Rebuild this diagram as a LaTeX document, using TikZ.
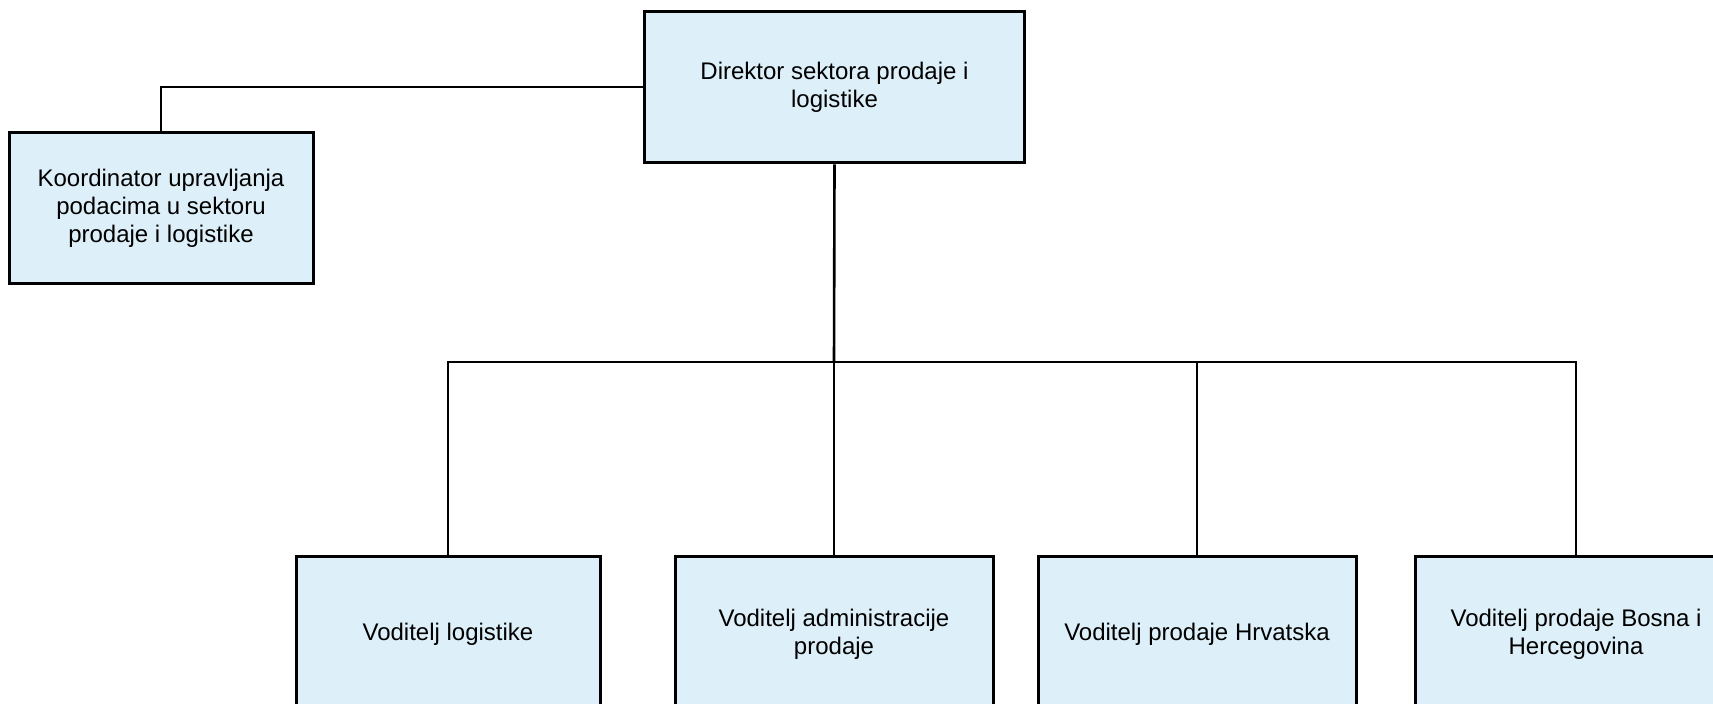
\documentclass[tikz,border=0pt]{standalone}
\usepackage{fontspec}
\setmainfont{Liberation Sans}
\usetikzlibrary{positioning}
\definecolor{boxblue}{RGB}{221,239,248}

\begin{document}
\begin{tikzpicture}[x=0.5pt,y=-0.5pt,line width=1pt,
  unit box/.style={rectangle,draw,fill=boxblue,line width=1.5pt,align=center,
    minimum height=77.5pt,inner sep=0pt,font=\fontsize{12}{14}\selectfont}]

  \useasboundingbox (0,0) rectangle (1713,704);
  \clip (0,0) rectangle (1713,704);

  \node[unit box,minimum width=190pt,minimum height=75.5pt] (dir) at (834.5,87.5) {Direktor sektora prodaje i\\logistike};
  \node[unit box,minimum width=152pt,minimum height=75.5pt] (koord) at (161,208.5) {Koordinator upravljanja\\podacima u sektoru\\prodaje i logistike};

  \node[unit box,minimum width=152pt] (v1) at (448,634) {Voditelj logistike};
  \node[unit box,minimum width=159pt] (v2) at (834,634) {Voditelj administracije\\prodaje};
  \node[unit box,minimum width=159pt] (v3) at (1197,634) {Voditelj prodaje Hrvatska};
  \node[unit box,minimum width=161pt] (v4) at (1576,634) {Voditelj prodaje Bosna i\\Hercegovina};

  \coordinate (bus) at (834,362);

  \draw (dir.west) -| (koord.north);
  \draw[line width=1.3pt] (dir.south) -- (bus);
  \draw (bus) -| (v1.north);
  \draw (bus) -- (v2.north);
  \draw (bus) -| (v3.north);
  \draw (bus) -| (v4.north);
\end{tikzpicture}
\end{document}
